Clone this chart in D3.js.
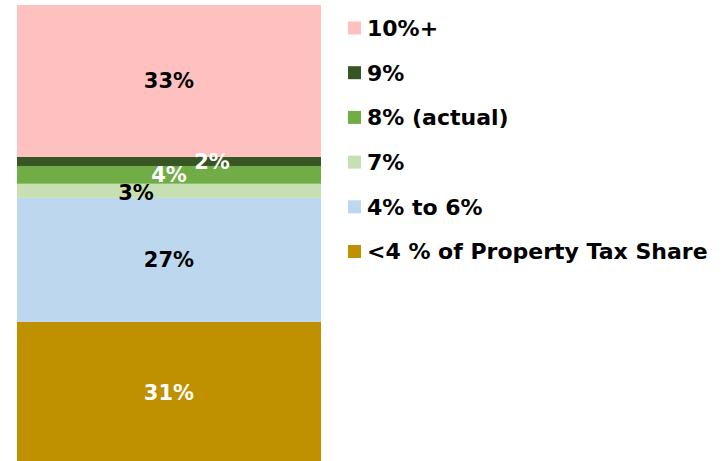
<!DOCTYPE html>
<html>
<head>
<meta charset="utf-8">
<script src="https://cdn.jsdelivr.net/npm/d3@7"></script>
<style>
  body { margin: 0; background: #fff; }
  text { font-family: "DejaVu Sans", Verdana, sans-serif; font-weight: bold; }
</style>
</head>
<body>
<div id="chart"></div>
<script>
// stacked from bottom to top
const categories = ["<4 % of Property Tax Share", "4% to 6%", "7%", "8% (actual)", "9%", "10%+"];
const shares = [30.5, 27.2, 3.1, 3.9, 2.0, 33.3];
const colors = ["#bf9000", "#bdd7ee", "#c6e0b4", "#70ad47", "#375623", "#ffc0c0"];
const labelColors = ["#fff", "#000", "#000", "#fff", "#fff", "#000"];
// label nudges for the thin segments (px)
const labelNudge = [[0, 1], [0, 0], [-33, 2], [0, 0], [43, 0], [0, 0]];

const width = 724, height = 461;

const svg = d3.select("#chart").append("svg")
  .attr("width", width)
  .attr("height", height);

const x = d3.scaleBand().domain(["share"]).range([17, 321]).padding(0);
const y = d3.scaleLinear().domain([0, 100]).range([461, 5]);

let acc = 0;
const stacked = shares.map((v, i) => {
  const d = { i, name: categories[i], value: v, y0: acc, y1: acc + v };
  acc += v;
  return d;
});

svg.append("g").selectAll("rect")
  .data(stacked)
  .join("rect")
  .attr("x", x("share"))
  .attr("width", x.bandwidth())
  .attr("y", d => y(d.y1))
  .attr("height", d => y(d.y0) - y(d.y1))
  .attr("fill", d => colors[d.i]);

svg.append("g").selectAll("text")
  .data(stacked)
  .join("text")
  .attr("x", d => x("share") + x.bandwidth() / 2 + labelNudge[d.i][0])
  .attr("y", d => y((d.y0 + d.y1) / 2) + labelNudge[d.i][1])
  .attr("dy", "0.36em")
  .attr("text-anchor", "middle")
  .attr("fill", d => labelColors[d.i])
  .style("font-size", "21px")
  .text(d => Math.round(d.value) + "%");

// legend, top to bottom
const legend = svg.append("g").attr("transform", "translate(348, 28)");
const legendItems = stacked.slice().reverse();
legendItems.forEach((d, k) => {
  const g = legend.append("g").attr("transform", `translate(0, ${k * 44.7})`);
  g.append("rect").attr("x", 0).attr("y", -6.5).attr("width", 13).attr("height", 13)
    .attr("fill", colors[d.i]);
  g.append("text").attr("x", 19).attr("y", 0).attr("dy", "0.36em")
    .style("font-size", "22px")
    .attr("fill", "#000")
    .text(d.name);
});
</script>
</body>
</html>
